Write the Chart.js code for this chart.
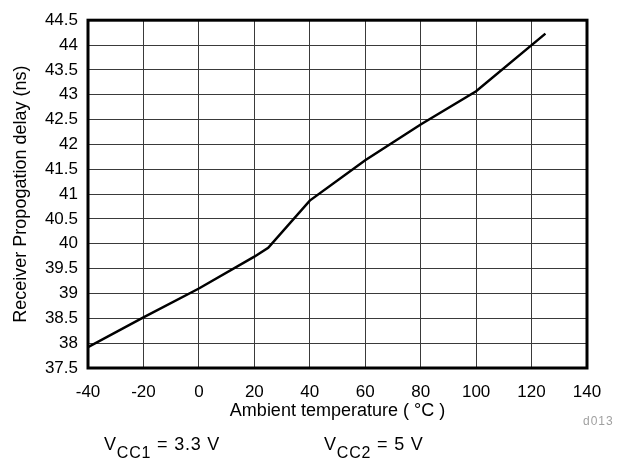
<!DOCTYPE html>
<html><head><meta charset="utf-8">
<script src="https://cdn.jsdelivr.net/npm/chart.js@4"></script>
<style>
html,body{margin:0;padding:0;background:#fff;}
#wrap{position:relative;width:621px;height:462px;overflow:hidden;}
canvas{position:absolute;left:0;top:0;}
.note{position:absolute;font-family:"Liberation Sans",Arial,sans-serif;color:#000;white-space:nowrap;}
.s{position:relative;top:8px;font-size:16px;}
</style></head><body>
<div id="wrap">
<canvas id="c" width="621" height="462"></canvas>
<div class="note" style="left:104px;top:435px;font-size:18px;line-height:18px;letter-spacing:0.8px">V<span class="s">CC1</span> = 3.3 V</div>
<div class="note" style="left:324px;top:435px;font-size:18px;line-height:18px;letter-spacing:0.8px">V<span class="s">CC2</span> = 5 V</div>
<div class="note" style="left:583px;top:415px;font-size:12px;line-height:12px;letter-spacing:1px;color:#a0a0a0">d013</div>
</div>
<script>
const temps  = [-40, -20, 0, 20, 25, 40, 60, 80, 100, 125];
const delays = [37.92, 38.52, 39.1, 39.74, 39.92, 40.87, 41.68, 42.4, 43.07, 44.23];
const xTicks = [-40, -20, 0, 20, 40, 60, 80, 100, 120, 140];
const yTicks = [37.5, 38, 38.5, 39, 39.5, 40, 40.5, 41, 41.5, 42, 42.5, 43, 43.5, 44, 44.5];
const xTitle = 'Ambient temperature ( °C )';
const yTitle = 'Receiver Propogation delay (ns)';

const FONT = '"Liberation Sans", Arial, sans-serif';

const frame = {
  id: 'frame',
  afterDatasetsDraw(chart) {
    const a = chart.chartArea, ctx = chart.ctx;
    ctx.save();
    ctx.strokeStyle = '#000';
    ctx.lineWidth = 3;
    ctx.strokeRect(a.left, a.top, a.right - a.left, a.bottom - a.top);
    ctx.restore();
  }
};

new Chart(document.getElementById('c'), {
  type: 'line',
  data: {
    datasets: [{
      data: temps.map((t, i) => ({x: t, y: delays[i]})),
      borderColor: '#000',
      borderWidth: 2.5,
      pointRadius: 0,
      tension: 0,
      fill: false
    }]
  },
  options: {
    responsive: false,
    animation: false,
    devicePixelRatio: 1,
    layout: {padding: {left: 0, right: 34, top: 15, bottom: 0}},
    plugins: {legend: {display: false}, tooltip: {enabled: false}},
    scales: {
      x: {
        type: 'linear',
        min: -40, max: 140,
        afterBuildTicks: s => { s.ticks = xTicks.map(v => ({value: v})); },
        afterFit: s => { s.height = 94; },
        grid: {color: '#3a3a3a', lineWidth: 1, drawTicks: false},
        border: {display: false},
        ticks: {color: '#000', font: {family: FONT, size: 17}, padding: 14, maxRotation: 0, autoSkip: false,
                callback: v => String(v)},
        title: {display: true, text: xTitle, color: '#000', font: {family: FONT, size: 18},
                padding: {top: 0, bottom: 40}}
      },
      y: {
        type: 'linear',
        min: 37.5, max: 44.5,
        afterBuildTicks: s => { s.ticks = yTicks.map(v => ({value: v})); },
        afterFit: s => { s.width = 88; },
        grid: {color: '#3a3a3a', lineWidth: 1, drawTicks: false},
        border: {display: false},
        ticks: {color: '#000', font: {family: FONT, size: 17}, padding: 10, autoSkip: false,
                callback: v => String(v)},
        title: {display: true, text: yTitle, color: '#000', font: {family: FONT, size: 18},
                padding: {top: 10, bottom: 0}}
      }
    }
  },
  plugins: [frame]
});
</script>
</body></html>
